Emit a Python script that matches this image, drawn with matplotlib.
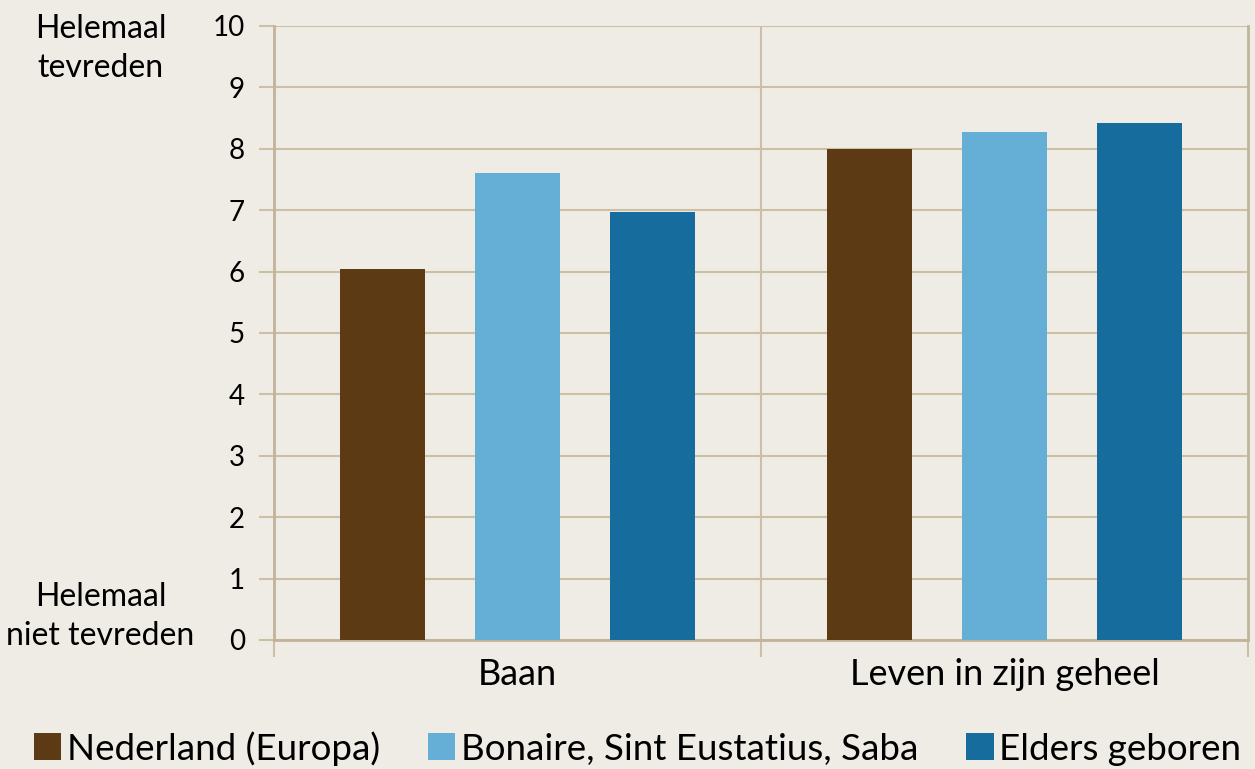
import matplotlib.pyplot as plt
import numpy as np
from matplotlib.patches import Patch

plt.rcParams['font.family'] = ['Lato', 'DejaVu Sans']

categories = ["Baan", "Leven in zijn geheel"]
groups = ["Nederland (Europa)", "Bonaire, Sint Eustatius, Saba", "Elders geboren"]
values = {
    "Nederland (Europa)": [6.05, 8.0],
    "Bonaire, Sint Eustatius, Saba": [7.6, 8.27],
    "Elders geboren": [6.97, 8.42],
}
colors = ["#5c3a14", "#65aed5", "#166c9d"]
yticks = list(range(0, 11))

bg = "#eeece4"
line_col = "#cdbfa6"

fig = plt.figure(figsize=(12.55, 7.69), dpi=100, facecolor=bg)
ax = fig.add_axes([0.2183, 0.1678, 0.9944 - 0.2183, 0.9662 - 0.1678])
ax.set_facecolor(bg)

x = np.arange(len(categories))
offs = [-0.277, 0, 0.277]
for i, g in enumerate(groups):
    ax.bar(x + offs[i], values[g], width=0.176, color=colors[i], zorder=3, label=g)

ax.set_xlim(-0.5, 1.5)
ax.set_ylim(0, 10)
ax.set_yticks(yticks)
ax.set_yticklabels([str(t) for t in yticks], fontsize=20)
ax.yaxis.grid(True, color=line_col, lw=1.5, zorder=0)
ax.axvline(0.5, color=line_col, lw=1.5, zorder=1)

ax.set_xticks([-0.5, 0.5, 1.5])
ax.set_xticklabels([])
ax.set_xticks(x, minor=True)
ax.set_xticklabels(categories, minor=True, fontsize=26)
ax.tick_params(axis='x', which='minor', length=0, pad=13)
ax.tick_params(axis='x', which='major', length=12, color=line_col, width=1.5)
ax.tick_params(axis='y', length=11, color=line_col, width=1.5, pad=10)

for s in ['left', 'bottom', 'right']:
    ax.spines[s].set_color("#c2b39a")
    ax.spines[s].set_linewidth(2)
ax.spines['top'].set_visible(False)

fig.text(0.08, 0.982, "Helemaal\ntevreden", ha='center', va='top', fontsize=23,
         linespacing=1.4)
fig.text(0.08, 0.243, "Helemaal\nniet tevreden", ha='center', va='top', fontsize=23,
         linespacing=1.35)

handles = [Patch(facecolor=c, label=g) for c, g in zip(colors, groups)]
fig.legend(handles=handles, loc='center', bbox_to_anchor=(0.508, 0.027), ncol=3,
           frameon=False, fontsize=26.5, handlelength=0.75, handleheight=0.75,
           handletextpad=0.15, columnspacing=1.3, borderpad=0)

fig.savefig("out.png", dpi=100, facecolor=bg)
